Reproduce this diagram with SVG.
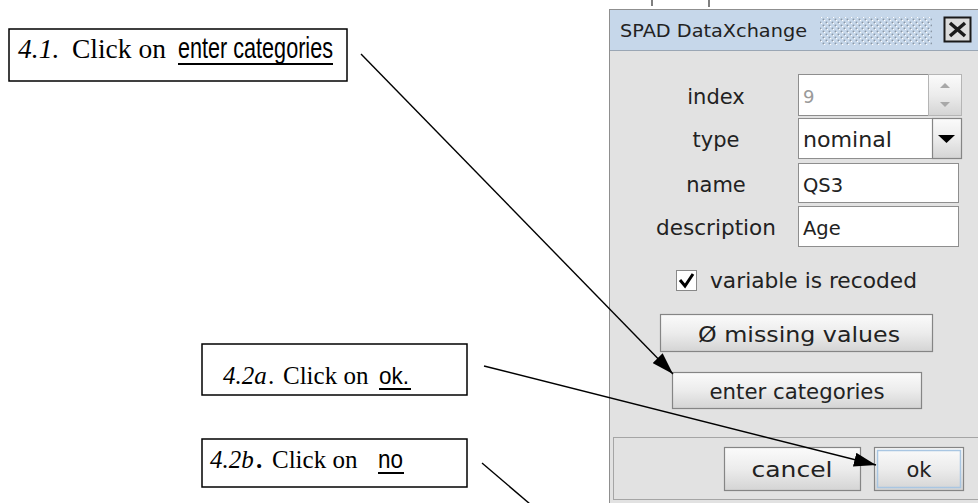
<svg xmlns="http://www.w3.org/2000/svg" width="978" height="503" viewBox="0 0 978 503">
<defs>
  <linearGradient id="btn" x1="0" y1="0" x2="0" y2="1">
    <stop offset="0" stop-color="#fbfbfb"/>
    <stop offset="0.5" stop-color="#ececec"/>
    <stop offset="1" stop-color="#d4d4d4"/>
  </linearGradient>
  <pattern id="dots" width="6" height="6" patternUnits="userSpaceOnUse">
    <rect width="6" height="6" fill="#c6d7ea"/>
    <circle cx="1.5" cy="1.5" r="1" fill="#8a98a8"/>
    <circle cx="4.5" cy="4.5" r="1" fill="#8a98a8"/>
    <circle cx="2.5" cy="2.5" r="0.8" fill="#ffffff"/>
    <circle cx="5.5" cy="5.5" r="0.8" fill="#ffffff"/>
  </pattern>
  <marker id="arrow" viewBox="0 0 22 14" refX="22" refY="7" markerWidth="22" markerHeight="14" markerUnits="userSpaceOnUse" orient="auto">
    <path d="M0,0 L22,7 L0,14 z" fill="#000"/>
  </marker>
  <style>
    .note { fill: #fff; stroke: #000; stroke-width: 1.5; }
    .serif { font-family: "Liberation Serif", "Times New Roman", serif; font-size: 25px; fill: #000; }
    .big { font-size: 27.5px; }
    .it { font-style: italic; }
    .sans { font-family: "Liberation Sans", Arial, sans-serif; fill: #000; }
    .ul { stroke: #000; stroke-width: 2; }
    .ui { font-family: "DejaVu Sans", "Noto Sans", sans-serif; font-size: 21px; fill: #222; }
    .small { font-size: 18px; }
    .fld { font-size: 19.5px; }
    .lbl { text-anchor: middle; }
    .field { fill: #fff; stroke: #8e8e8e; stroke-width: 1; }
    .button { fill: url(#btn); stroke: #858585; stroke-width: 1.2; }
    .conn { stroke: #000; stroke-width: 1.4; fill: none; }
  </style>
</defs>

<rect width="978" height="503" fill="#fff"/>

<g id="screen-marks" stroke="#555" stroke-width="1.5">
  <line x1="652" y1="0" x2="652" y2="6"/>
  <line x1="709" y1="0" x2="709" y2="7"/>
</g>

<g id="dialog">
  <rect x="609.5" y="9.5" width="380" height="500" fill="#e2e2e2" stroke="#8f8f8f"/>
  <rect x="610" y="10" width="368" height="40" fill="#c6d7ea"/>
  <line x1="610" y1="50.5" x2="978" y2="50.5" stroke="#9aa6b4"/>
  <text x="620" y="37" class="ui small" textLength="187" lengthAdjust="spacingAndGlyphs">SPAD DataXchange</text>
  <rect x="820" y="17" width="112" height="28" fill="url(#dots)"/>
  <g id="close-button">
    <rect x="944.5" y="17.5" width="26" height="24" fill="#dcdcdc" stroke="#1a1a1a" stroke-width="2"/>
    <path d="M950,23 L965,36 M965,23 L950,36" stroke="#1a1a1a" stroke-width="3.5"/>
  </g>

  <g id="row-index">
    <text x="716" y="104" class="ui lbl">index</text>
    <rect x="798.5" y="74.5" width="130" height="41" class="field" stroke="#b5b5b5"/>
    <text x="803" y="103" class="ui small" style="fill:#9a9a9a">9</text>
    <rect x="928.5" y="74.5" width="33" height="41" fill="url(#btn)" stroke="#b5b5b5"/>
    <path d="M940,88 L950,88 L945,83 z" fill="#a8a8a8"/>
    <path d="M940,102 L950,102 L945,107 z" fill="#a8a8a8"/>
  </g>

  <g id="row-type">
    <text x="716" y="147" class="ui lbl">type</text>
    <rect x="798.5" y="118.5" width="134" height="40" class="field"/>
    <text x="803" y="147" class="ui" textLength="89" lengthAdjust="spacingAndGlyphs">nominal</text>
    <rect x="932.5" y="118.5" width="29" height="40" class="button"/>
    <path d="M938,135 L955,135 L946.5,143 z" fill="#000"/>
  </g>

  <g id="row-name">
    <text x="716" y="192" class="ui lbl">name</text>
    <rect x="798.5" y="163.5" width="160" height="39" class="field"/>
    <text x="803" y="192" class="ui fld">QS3</text>
  </g>

  <g id="row-description">
    <text x="716" y="235" class="ui lbl" textLength="120" lengthAdjust="spacingAndGlyphs">description</text>
    <rect x="798.5" y="206.5" width="160" height="40" class="field"/>
    <text x="803" y="235" class="ui fld">Age</text>
  </g>

  <g id="checkbox-recoded">
    <rect x="676.5" y="270.5" width="20" height="20" fill="#fff" stroke="#888"/>
    <path d="M680,280 L685,286 L693,274" stroke="#000" stroke-width="3" fill="none"/>
    <text x="710" y="288" class="ui" textLength="207" lengthAdjust="spacingAndGlyphs">variable is recoded</text>
  </g>

  <g id="btn-missing">
    <rect x="660.5" y="314.5" width="272" height="37" class="button"/>
    <text x="698" y="342" class="ui" textLength="202" lengthAdjust="spacingAndGlyphs">Ø missing values</text>
  </g>

  <g id="btn-enter-categories">
    <rect x="672.5" y="372.5" width="249" height="36" class="button"/>
    <text x="797" y="399" class="ui lbl" textLength="175" lengthAdjust="spacingAndGlyphs">enter categories</text>
  </g>

  <rect x="613.5" y="437.5" width="370" height="62" fill="none" stroke="#a5a5a5"/>

  <g id="btn-cancel">
    <rect x="724.5" y="447.5" width="136" height="43" class="button"/>
    <text x="792" y="477" class="ui lbl" textLength="81" lengthAdjust="spacingAndGlyphs">cancel</text>
  </g>

  <g id="btn-ok">
    <rect x="874.5" y="447.5" width="89" height="43" class="button"/>
    <rect x="877.5" y="450.5" width="83" height="37" fill="none" stroke="#a9c6e2" stroke-width="1.5"/>
    <text x="919" y="477" class="ui lbl">ok</text>
  </g>
</g>

<g id="note-4-1">
  <rect x="9" y="29" width="338" height="52" class="note"/>
  <text x="18" y="58" class="serif big it">4.1.</text>
  <text x="72" y="58" class="serif big">Click on</text>
  <text x="178" y="58" class="sans" font-size="29" textLength="155" lengthAdjust="spacingAndGlyphs">enter categories</text>
  <line x1="178" y1="64" x2="333" y2="64" class="ul"/>
</g>

<g id="note-4-2a">
  <rect x="202" y="344" width="265" height="51" class="note"/>
  <text x="223" y="384" class="serif it">4.2a</text>
  <text x="268" y="384" class="serif">.</text>
  <text x="283" y="384" class="serif">Click on</text>
  <text x="379" y="384" class="sans" font-size="24" textLength="30" lengthAdjust="spacingAndGlyphs">ok.</text>
  <line x1="379" y1="389" x2="411" y2="389" class="ul"/>
</g>

<g id="note-4-2b">
  <rect x="202" y="439" width="265" height="48" class="note"/>
  <text x="210" y="468" class="serif it">4.2b</text>
  <text x="256" y="468" class="serif" font-weight="bold">.</text>
  <text x="272" y="468" class="serif">Click on</text>
  <text x="378" y="468" class="sans" font-size="25" textLength="25" lengthAdjust="spacingAndGlyphs">no</text>
  <line x1="378" y1="473" x2="404" y2="473" class="ul"/>
</g>

<g id="connectors">
  <line x1="361" y1="54" x2="673" y2="374" class="conn" marker-end="url(#arrow)"/>
  <line x1="484" y1="366" x2="876" y2="465" class="conn" marker-end="url(#arrow)"/>
  <line x1="482" y1="463" x2="530" y2="504" class="conn"/>
</g>
</svg>
